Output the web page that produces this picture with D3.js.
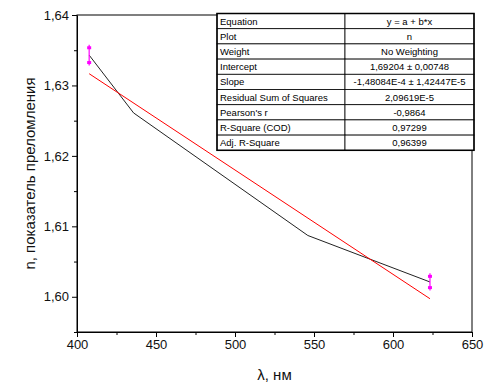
<!DOCTYPE html>
<html>
<head>
<meta charset="utf-8">
<script src="https://cdn.jsdelivr.net/npm/d3@7"></script>
<style>
  html, body { margin: 0; padding: 0; background: #fff; }
  svg { display: block; font-family: "Liberation Sans", Arial, sans-serif; }
</style>
</head>
<body>
<div id="chart"></div>
<script>
// measured wavelengths (nm) and refractive index
const lambda = [407.7, 435.8, 546.1, 623.4];
const nValues = [1.6343, 1.6261, 1.6087, 1.6021];
const nErrors = [0.00105, 0, 0, 0.0008];

// linear fit y = a + b*x
const fitA = 1.69204;
const fitB = -1.48084e-4;

const xTicks = [400, 450, 500, 550, 600, 650];
const yTicks = [1.60, 1.61, 1.62, 1.63, 1.64];

const tableRows = [
  ['Equation', 'y = a + b*x'],
  ['Plot', 'n'],
  ['Weight', 'No Weighting'],
  ['Intercept', '1,69204 ± 0,00748'],
  ['Slope', '-1,48084E-4 ± 1,42447E-5'],
  ['Residual Sum of Squares', '2,09619E-5'],
  ["Pearson's r", '-0,9864'],
  ['R-Square (COD)', '0,97299'],
  ['Adj. R-Square', '0,96399']
];

const W = 486, H = 388;
const margin = { top: 15, right: 14, bottom: 56, left: 77 };
const width = W - margin.left - margin.right;
const height = H - margin.top - margin.bottom;

const svg = d3.select('#chart').append('svg')
  .attr('width', W).attr('height', H);

const g = svg.append('g')
  .attr('transform', `translate(${margin.left},${margin.top})`);

const x = d3.scaleLinear().domain([400, 650]).range([0, width]);
const y = d3.scaleLinear().domain([1.595, 1.64]).range([height, 0]);

const fmtY = d => d3.format('.2f')(d).replace('.', ',');

// minor ticks
const xMinor = d3.range(400, 651, 25).filter(v => v % 50 !== 0);
const yMinor = d3.range(1.595, 1.6401, 0.005).filter((v, i) => i % 2 === 0);

g.append('g')
  .attr('transform', `translate(0,${height})`)
  .call(d3.axisBottom(x).tickValues(xMinor).tickSize(3).tickFormat(''))
  .call(s => s.select('.domain').remove());

g.append('g')
  .call(d3.axisLeft(y).tickValues(yMinor).tickSize(3).tickFormat(''))
  .call(s => s.select('.domain').remove());

const xAxis = g.append('g')
  .attr('transform', `translate(0,${height})`)
  .call(d3.axisBottom(x).tickValues(xTicks).tickSize(5).tickSizeOuter(0).tickPadding(3));
xAxis.selectAll('text').attr('font-size', 13).attr('fill', '#111')
  .attr('font-family', '"Liberation Sans", Arial, sans-serif');

const yAxis = g.append('g')
  .call(d3.axisLeft(y).tickValues(yTicks).tickFormat(fmtY).tickSize(5).tickSizeOuter(0).tickPadding(3));
yAxis.selectAll('text').attr('font-size', 13).attr('fill', '#111')
  .attr('font-family', '"Liberation Sans", Arial, sans-serif');

// frame
g.append('rect')
  .attr('x', 0).attr('y', 0).attr('width', width).attr('height', height)
  .attr('fill', 'none').attr('stroke', '#000').attr('stroke-width', 1);

// data line
const pts = lambda.map((l, i) => [l, nValues[i]]);
g.append('path')
  .datum(pts)
  .attr('fill', 'none')
  .attr('stroke', '#222')
  .attr('stroke-width', 1)
  .attr('d', d3.line().x(d => x(d[0])).y(d => y(d[1])));

// fit line
const fitX = [lambda[0], lambda[lambda.length - 1]];
g.append('path')
  .datum(fitX)
  .attr('fill', 'none')
  .attr('stroke', '#ff0000')
  .attr('stroke-width', 1)
  .attr('d', d3.line().x(d => x(d)).y(d => y(fitA + fitB * d)));

// error bars
const errData = lambda.map((l, i) => ({ l, n: nValues[i], e: nErrors[i] })).filter(d => d.e > 0);
const eb = g.append('g').attr('fill', '#ff00ff').attr('stroke', '#ff00ff');
eb.selectAll('line').data(errData).enter().append('line')
  .attr('x1', d => x(d.l)).attr('x2', d => x(d.l))
  .attr('y1', d => y(d.n + d.e) - 3).attr('y2', d => y(d.n - d.e) + 3)
  .attr('stroke-width', 1.2);
eb.selectAll('rect.cap').data(errData.flatMap(d => [
    { l: d.l, v: d.n + d.e }, { l: d.l, v: d.n - d.e }]))
  .enter().append('rect')
  .attr('class', 'cap')
  .attr('x', d => x(d.l) - 2).attr('y', d => y(d.v) - 1.5)
  .attr('width', 4).attr('height', 3).attr('stroke', 'none');

// axis titles
svg.append('text')
  .attr('x', margin.left + width / 2).attr('y', 380)
  .attr('text-anchor', 'middle').attr('font-size', 15).attr('fill', '#111')
  .text('λ, нм');

svg.append('text')
  .attr('transform', `translate(35,${margin.top + height / 2}) rotate(-90)`)
  .attr('text-anchor', 'middle').attr('font-size', 15).attr('fill', '#111')
  .text('n, показатель преломления');

// fit results table
const tX = 217, tY = 13.5, rowH = 15.2, col1 = 128, col2 = 129;
const tbl = svg.append('g');
tableRows.forEach((r, i) => {
  const ry = tY + i * rowH;
  tbl.append('rect').attr('x', tX).attr('y', ry).attr('width', col1).attr('height', rowH)
    .attr('fill', '#fff').attr('stroke', '#000').attr('stroke-width', 0.8);
  tbl.append('rect').attr('x', tX + col1).attr('y', ry).attr('width', col2).attr('height', rowH)
    .attr('fill', '#fff').attr('stroke', '#000').attr('stroke-width', 0.8);
  tbl.append('text').attr('x', tX + 3).attr('y', ry + rowH / 2 + 3.5)
    .attr('font-size', 9.5).attr('fill', '#000').text(r[0]);
  tbl.append('text').attr('x', tX + col1 + col2 / 2).attr('y', ry + rowH / 2 + 3.5)
    .attr('text-anchor', 'middle').attr('font-size', 9.5).attr('fill', '#000').text(r[1]);
});
tbl.append('rect').attr('x', tX).attr('y', tY).attr('width', col1 + col2).attr('height', rowH * tableRows.length)
  .attr('fill', 'none').attr('stroke', '#000').attr('stroke-width', 1.5);
</script>
</body>
</html>
